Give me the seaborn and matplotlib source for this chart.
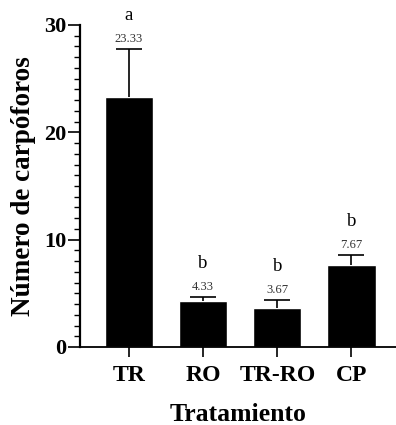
import matplotlib
matplotlib.use("Agg")
import matplotlib.pyplot as plt
import seaborn as sns
import pandas as pd
from matplotlib.ticker import MultipleLocator

categories = ["TR", "RO", "TR-RO", "CP"]
means = [23.33, 4.33, 3.67, 7.67]
errors = [4.4, 0.33, 0.67, 0.9]
letters = ["a", "b", "b", "b"]
value_labels = ["23.33", "4.33", "3.67", "7.67"]

sns.set_style("ticks", {"axes.edgecolor": "black", "text.color": "black",
                        "axes.labelcolor": "black", "xtick.color": "black",
                        "ytick.color": "black"})
plt.rcParams["font.family"] = ["Liberation Serif", "DejaVu Serif"]

df = pd.DataFrame({"Tratamiento": categories, "valor": means})

fig = plt.figure(figsize=(3.96, 4.25), dpi=100)
ax = fig.add_axes([80/396, 78/425, 1 - 80/396, (346 - 24)/425])

sns.barplot(data=df, x="Tratamiento", y="valor", color="black", width=0.65,
            errorbar=None, ax=ax, saturation=1)
for i, (m, e) in enumerate(zip(means, errors)):
    _, caps, _ = ax.errorbar(i, m, yerr=[[0], [e]], fmt="none", ecolor="black",
                             elinewidth=1.2, capsize=9.5, capthick=1.2, clip_on=False)
    caps[0].set_visible(False)
    ax.annotate(value_labels[i], (i, m + e), xytext=(0, 3), textcoords="offset points",
                ha="center", va="bottom", fontsize=9, color="#333333", annotation_clip=False)
    ax.annotate(letters[i], (i, m + e), xytext=(0, 18), textcoords="offset points",
                ha="center", va="bottom", fontsize=13.5, color="black", annotation_clip=False)

ax.set_ylim(0, 30)
ax.set_xlim(-0.66, 3.6)
ax.yaxis.set_major_locator(MultipleLocator(10))
ax.yaxis.set_minor_locator(MultipleLocator(1))

for s in ["top", "right"]:
    ax.spines[s].set_visible(False)
ax.spines["left"].set_linewidth(1.6)
ax.spines["bottom"].set_linewidth(1.3)

ax.tick_params(axis="y", which="major", length=9, width=1.2, labelsize=16, pad=1)
ax.tick_params(axis="y", which="minor", length=4.5, width=1.0)
ax.tick_params(axis="x", which="major", length=7, width=1.2, labelsize=17, pad=6)
for lab in ax.get_xticklabels() + ax.get_yticklabels():
    lab.set_fontweight("bold")

ax.set_xlabel("Tratamiento", fontsize=18.5, fontweight="bold", labelpad=12)
ax.set_ylabel("Número de carpóforos", fontsize=19.5, fontweight="bold", labelpad=6)

fig.savefig("out.png", dpi=100)
